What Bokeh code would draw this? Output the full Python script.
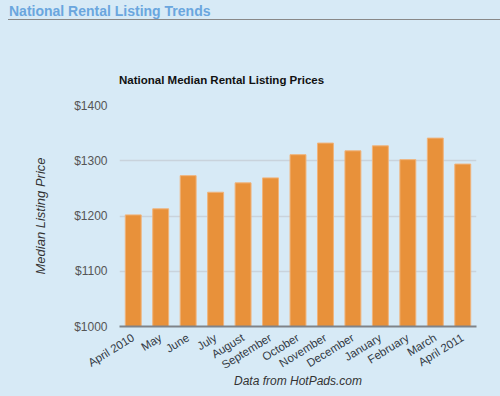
from bokeh.plotting import figure
from bokeh.layouts import column
from bokeh.models import (FactorRange, Range1d, FixedTicker, PrintfTickFormatter,
                          ColumnDataSource, Div)
from bokeh.embed import file_html
from bokeh.resources import INLINE

months = ["April 2010", "May", "June", "July", "August", "September", "October",
          "November", "December", "January", "February", "March", "April 2011"]
prices = [1202, 1213, 1273, 1243, 1260, 1269, 1311, 1332, 1318, 1327, 1302, 1341, 1294]
y_ticks = [1000, 1100, 1200, 1300, 1400]

BG = "#D7EAF6"
W, H = 500, 396
DH = 96                                   # header strip height (headline + chart title)
FL, FR, FT, FB = 119, 24, 105 - DH, 70    # frame borders inside the figure

head = Div(
    text=('<div style="display:block;box-sizing:border-box;width:492px;margin-left:8px;'
          'padding:3px 0 0 1px;line-height:16px;'
          'border-bottom:1.5px solid #888888;font-family:\'Liberation Sans\';'
          'font-weight:bold;font-size:14px;color:#6AA6DE;">'
          'National Rental Listing Trends</div>'
          '<div style="display:block;margin:53px 0 0 119px;line-height:14px;'
          'font-family:\'Liberation Sans\';font-weight:bold;font-size:11.5px;color:#111111;">'
          'National Median Rental Listing Prices</div>'),
    width=W, height=DH, margin=0,
    styles={"background-color": BG, "width": f"{W}px", "height": f"{DH}px"})

p = figure(x_range=FactorRange(*months, range_padding=0), y_range=Range1d(1000, 1400),
           width=W, height=H - DH, output_backend="svg", toolbar_location=None,
           min_border_left=FL, min_border_right=FR, min_border_top=FT, min_border_bottom=FB,
           margin=0)
p.background_fill_color = BG
p.border_fill_color = BG
p.outline_line_color = None

src = ColumnDataSource(dict(m=months, v=prices))
p.vbar(x="m", top="v", bottom=1000, width=0.58, source=src,
       fill_color="#E8913A", line_color="#F0B47C", line_width=1)

# grid
p.xgrid.grid_line_color = None
p.ygrid.grid_line_color = "#C9D3DC"
p.ygrid.grid_line_width = 1.5

# y axis
ya = p.yaxis[0]
ya.ticker = FixedTicker(ticks=y_ticks)
ya.formatter = PrintfTickFormatter(format="$%d")
ya.axis_line_color = None
ya.major_tick_line_color = None
ya.minor_tick_line_color = None
ya.major_label_standoff = 6
ya.major_label_text_font = "Liberation Sans"
ya.major_label_text_font_size = "12px"
ya.major_label_text_color = "#555555"
ya.axis_label = "Median Listing Price"
ya.axis_label_text_font = "Liberation Sans"
ya.axis_label_text_font_style = "italic"
ya.axis_label_text_font_size = "13px"
ya.axis_label_text_color = "#333333"
ya.axis_label_standoff = 23

# x axis
xa = p.xaxis[0]
xa.axis_line_color = "#7F8389"
xa.axis_line_width = 2
xa.major_tick_line_color = None
xa.minor_tick_line_color = None
xa.major_label_orientation = 0.55
xa.major_label_standoff = 4
xa.major_label_text_font = "Liberation Sans"
xa.major_label_text_font_size = "11.5px"
xa.major_label_text_color = "#333A45"
xa.axis_label = "Data from HotPads.com"
xa.axis_label_text_font = "Liberation Sans"
xa.axis_label_text_font_style = "italic"
xa.axis_label_text_font_size = "12px"
xa.axis_label_text_color = "#333333"
xa.axis_label_standoff = -5

layout = column(head, p, spacing=0, margin=0,
                styles={"background-color": BG})

open("out.html", "w").write(file_html(layout, INLINE))
